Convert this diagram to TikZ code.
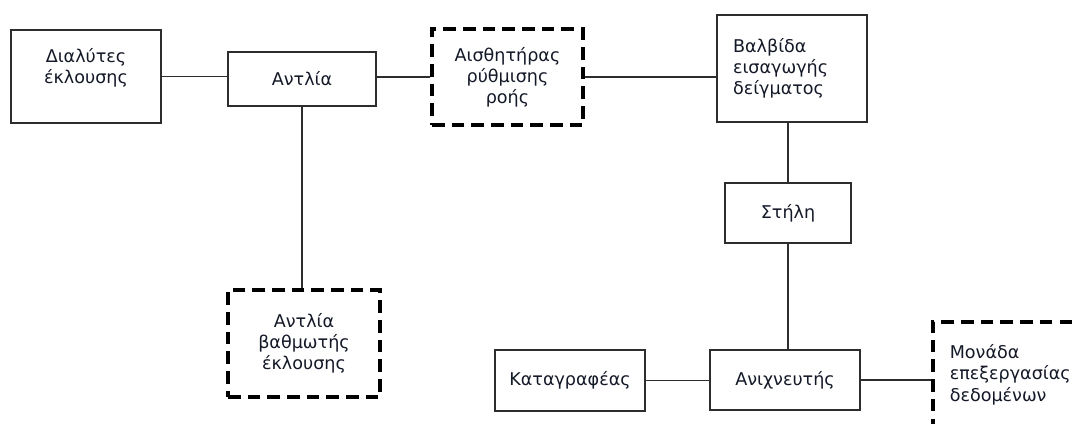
\documentclass[tikz,border=0pt]{standalone}
\usepackage{fontspec}
\setmainfont{DejaVu Sans}
\definecolor{boxline}{RGB}{45,45,45}
\definecolor{labeltext}{RGB}{20,25,40}
\tikzset{
  link/.style={line width=0.75pt, draw=boxline},
  box/.style={
    draw=boxline,
    line width=0.75pt,
    align=center,
    inner sep=0pt,
    text=labeltext,
    font=\fontsize{10}{12}\selectfont
  },
  dashbox/.style={box, draw=black, line width=2pt, dash pattern=on 7.2pt off 4pt},
  leftbox/.style={box, align=left, inner xsep=0.32cm}
}

\begin{document}
\begin{tikzpicture}[x=0.02cm,y=-0.02cm]
  \useasboundingbox (0,0) rectangle (1075,423);

  % top row
  \node[box,minimum width=3cm,minimum height=1.86cm,text depth=12pt] (solvent) at (86,76.5) {Διαλύτες\\έκλουσης};
  \node[box,minimum width=2.96cm,minimum height=1.08cm] (pump) at (302,79) {Αντλία};
  \node[dashbox,minimum width=3.02cm,minimum height=1.92cm] (sensor) at (507.5,77) {Αισθητήρας\\ρύθμισης\\ροής};
  \node[leftbox,text width=2.36cm,minimum height=2.14cm] (valve) at (792,68.5) {Βαλβίδα\\εισαγωγής\\δείγματος};
  \draw[link] (solvent.east) -- (solvent.east -| pump.west);
  \draw[link] (sensor.west) -- (sensor.west -| pump.east);
  \draw[link] (sensor.east) -- (sensor.east -| valve.west);

  % gradient pump below the pump
  \node[dashbox,minimum width=3.04cm,minimum height=2.14cm] (gradpump) at (304,343.5) {Αντλία\\βαθμωτής\\έκλουσης};
  \draw[link] (pump.south) -- (pump.south |- gradpump.north);

  % column and detector chain
  \node[box,minimum width=2.52cm,minimum height=1.2cm] (column) at (788,213) {Στήλη};
  \node[box,minimum width=3cm,minimum height=1.2cm] (detector) at (785,380) {Ανιχνευτής};
  \node[box,minimum width=3cm,minimum height=1.22cm] (recorder) at (570,380.5) {Καταγραφέας};
  \node[dashbox,anchor=north west,align=left,inner xsep=0.34cm,text width=3cm,minimum height=2.12cm] (dataunit) at (931,320) {Μονάδα\\επεξεργασίας\\δεδομένων};
  \draw[link] (column.north) -- (column.north |- valve.south);
  \draw[link] (column.south) -- (column.south |- detector.north);
  \draw[link] (recorder.east) -- (recorder.east -| detector.west);
  \draw[link] (detector.east) -- (detector.east -| dataunit.west);
\end{tikzpicture}
\end{document}
